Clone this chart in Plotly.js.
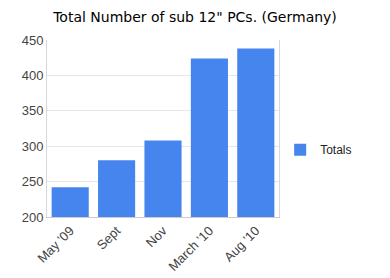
<!DOCTYPE html>
<html><head><meta charset="utf-8">
<script src="https://cdn.plot.ly/plotly-3.0.1.min.js"></script>
<style>html,body{margin:0;padding:0;background:#fff}#c{width:390px;height:278px}</style>
</head><body><div id="c"></div>
<script>
var categories = ["May '09", "Sept", "Nov", "March '10", "Aug '10"];
var totals = [242, 280, 308, 424, 438];
var yTicks = [200, 250, 300, 350, 400, 450];

Plotly.newPlot('c', [{
  type: 'bar', x: categories, y: totals, name: 'Totals',
  marker: {color: '#4684ee'}
}], {
  width: 390, height: 278,
  margin: {l: 47, r: 111, t: 40, b: 61},
  paper_bgcolor: '#fff', plot_bgcolor: '#fff',
  font: {family: 'Arial, Liberation Sans, sans-serif', color: '#444'},
  title: {text: 'Total Number of sub 12" PCs. (Germany)', x: 0.5, xanchor: 'center', y: 0.937, yanchor: 'middle',
    font: {size: 14, color: '#000', family: 'DejaVu Sans, sans-serif'}},
  bargap: 0.2,
  showlegend: true,
  legend: {x: 1.005, y: 0.38, xanchor: 'left', yanchor: 'middle', font: {size: 12, color: '#222'}, itemwidth: 30},
  xaxis: {tickangle: -45, tickfont: {size: 13, color: '#444'}, showline: true, linecolor: '#ccc', ticks: '', fixedrange: true},
  yaxis: {range: [200, 450], tickvals: yTicks, tickfont: {size: 13, color: '#444'}, gridcolor: '#e6e6e6',
    showline: true, mirror: true, linecolor: '#d8d8d8', ticks: '', zeroline: false}
}, {displayModeBar: false, staticPlot: true});
</script></body></html>
